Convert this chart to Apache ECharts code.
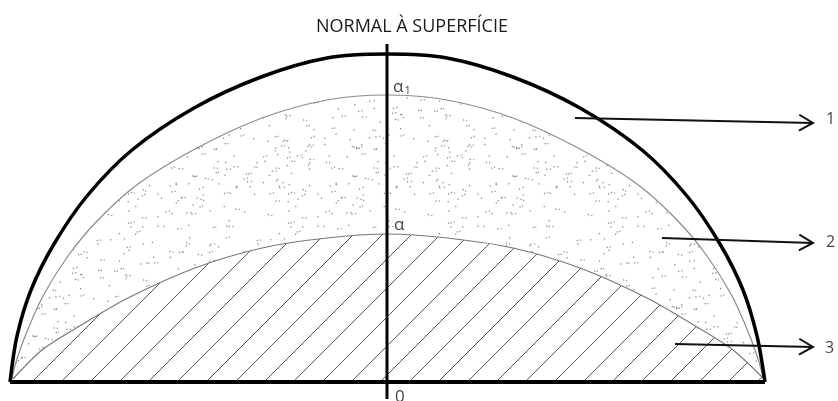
<!DOCTYPE html>
<html>
<head>
<meta charset="utf-8">
<script src="https://cdn.jsdelivr.net/npm/echarts@6/dist/echarts.min.js"></script>
<style>
html, body { margin: 0; padding: 0; background: #fff; }
#chart { width: 838px; height: 401px; }
</style>
</head>
<body>
<div id="chart"></div>
<script>
// x: distance from the normal axis, y: height above the base line
const outerCurve = [[-377, 0], [-370, 46], [-356, 92], [-333, 138], [-300, 186], [-255, 232], [-193, 274],
    [-126, 305], [-60, 324], [0, 328], [60, 324], [126, 305], [193, 274], [255, 232], [300, 186],
    [333, 138], [356, 92], [370, 46], [378, 0]];
const stippleCurve = [[-375, 4], [-371, 20], [-361, 48], [-344, 86], [-319, 126], [-289, 162], [-249, 198],
    [-192, 233], [-125, 264], [-60, 282], [0, 287], [60, 282], [126, 264], [193, 233], [250, 198],
    [290, 162], [320, 126], [345, 86], [362, 48], [372, 20], [376, 4]];
const hatchCurve = [[-374, 3], [-345, 32], [-309, 55], [-259, 84], [-192, 114], [-125, 134], [-60, 144],
    [0, 148], [60, 144], [126, 134], [193, 114], [260, 84], [310, 55], [346, 32], [376, 4]];
const baseLine = [[-377, 0], [378, 0]];
const normalAxis = [[0, -17], [0, 338]];

// arrows: [x start, y start, x tip, y tip]
const arrows = [[188, 264, 426, 259], [275, 144, 426, 139], [288, 38, 426, 35]];
const arrowLabels = ['1', '2', '3'];
const arrowLabelPos = [[439, 263], [439, 140], [438, 34]];

const pointLabels = ['α{s|1}', 'α', '0'];
const pointLabelPos = [[6, 295], [7, 157], [8, -15]];

const titleText = 'NORMAL À SUPERFÍCIE';

function makeStipple() {
    const size = 160;
    const c = document.createElement('canvas');
    c.width = size;
    c.height = size;
    const ctx = c.getContext('2d');
    let seed = 12345;
    const rnd = () => (seed = (seed * 16807) % 2147483647) / 2147483647;
    ctx.fillStyle = '#8c8c8c';
    for (let i = 0; i < 210; i++) {
        const x = rnd() * size, y = rnd() * size;
        ctx.fillRect(x, y, 1.3, 1.3);
        if (rnd() < 0.4) {
            ctx.fillRect(x + 2 + rnd() * 2, y + rnd() * 2 - 1, 1.2, 1.2);
        }
    }
    return c;
}

function makeHatch() {
    const s = 29;
    const c = document.createElement('canvas');
    c.width = s;
    c.height = s;
    const ctx = c.getContext('2d');
    ctx.fillStyle = '#fff';
    ctx.fillRect(0, 0, s, s);
    ctx.strokeStyle = '#555';
    ctx.lineWidth = 1;
    [8, 8 + s].forEach((k) => {
        ctx.beginPath();
        ctx.moveTo(k + 5, -5);
        ctx.lineTo(k - s - 5, s + 5);
        ctx.stroke();
    });
    return c;
}

const chart = echarts.init(document.getElementById('chart'));

chart.setOption({
    animation: false,
    backgroundColor: '#fff',
    title: {
        text: titleText,
        left: 311,
        top: 13,
        textStyle: {fontFamily: 'Open Sans', fontSize: 18, fontWeight: 'normal', color: '#1a1a1a'}
    },
    grid: {left: 0, right: 0, top: 0, bottom: 0},
    xAxis: {type: 'value', min: -387, max: 451, show: false},
    yAxis: {type: 'value', min: -19, max: 382, show: false},
    series: [
        {
            type: 'line',
            data: stippleCurve,
            smooth: 0.3,
            symbol: 'none',
            silent: true,
            lineStyle: {color: '#8a8a8a', width: 1.2},
            areaStyle: {color: {image: makeStipple(), repeat: 'repeat'}, opacity: 1},
            z: 1
        },
        {
            type: 'line',
            data: hatchCurve,
            smooth: 0.3,
            symbol: 'none',
            silent: true,
            lineStyle: {color: '#777', width: 1.2},
            areaStyle: {color: {image: makeHatch(), repeat: 'repeat'}, opacity: 1},
            z: 2
        },
        {
            type: 'line',
            data: outerCurve,
            smooth: 0.3,
            symbol: 'none',
            silent: true,
            lineStyle: {color: '#000', width: 3.5},
            z: 3
        },
        {
            type: 'line',
            data: baseLine,
            symbol: 'none',
            silent: true,
            lineStyle: {color: '#000', width: 4},
            z: 4
        },
        {
            type: 'line',
            data: normalAxis,
            symbol: 'none',
            silent: true,
            lineStyle: {color: '#000', width: 3},
            z: 4
        },
        {
            type: 'custom',
            data: arrows,
            encode: {x: [0, 2], y: [1, 3]},
            silent: true,
            z: 5,
            renderItem: (params, api) => {
                const a = api.coord([api.value(0), api.value(1)]);
                const b = api.coord([api.value(2), api.value(3)]);
                const ang = Math.atan2(b[1] - a[1], b[0] - a[0]);
                const head = (t) => [b[0] - 16 * Math.cos(ang + t), b[1] - 16 * Math.sin(ang + t)];
                return {
                    type: 'group',
                    children: [
                        {type: 'line', shape: {x1: a[0], y1: a[1], x2: b[0], y2: b[1]},
                            style: {stroke: '#111', lineWidth: 2}},
                        {type: 'polyline', shape: {points: [head(0.52), b, head(-0.52)]},
                            style: {stroke: '#111', lineWidth: 2, fill: null}}
                    ]
                };
            }
        },
        {
            type: 'scatter',
            symbolSize: 0,
            silent: true,
            z: 6,
            data: arrowLabelPos.map((p, i) => ({value: p, name: arrowLabels[i]})),
            label: {
                show: true, position: 'right', distance: 0, formatter: '{b}',
                fontFamily: 'Open Sans', fontSize: 16, color: '#111'
            }
        },
        {
            type: 'scatter',
            symbolSize: 0,
            silent: true,
            z: 6,
            data: pointLabelPos.map((p, i) => ({value: p, name: pointLabels[i]})),
            label: {
                show: true, position: 'right', distance: 0, formatter: '{b}',
                fontFamily: 'Open Sans', fontSize: 17, color: '#111',
                rich: {s: {fontFamily: 'Open Sans', fontSize: 11, color: '#111', padding: [7, 0, 0, 1]}}
            }
        }
    ]
});
</script>
</body>
</html>
